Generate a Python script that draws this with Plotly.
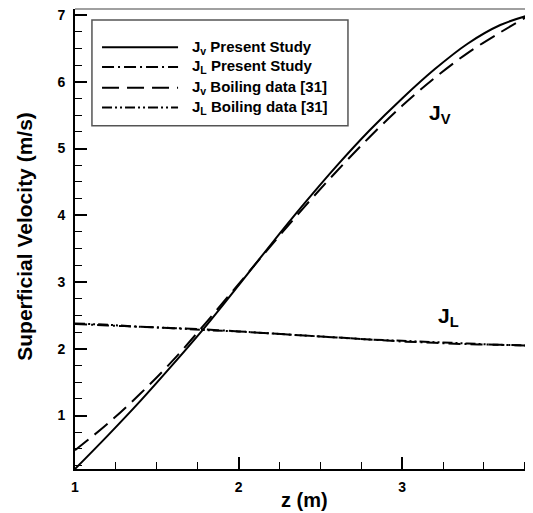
import plotly.graph_objects as go

# ---- data ----
z = [1.0, 1.2, 1.4, 1.6, 1.8, 2.0, 2.2, 2.4, 2.6, 2.8, 3.0, 3.2, 3.4, 3.6, 3.78]
jv_present = [0.20, 0.70, 1.22, 1.77, 2.34, 2.95, 3.57, 4.17, 4.74, 5.27, 5.75, 6.19, 6.57, 6.85, 7.00]
jl_present = [2.37, 2.35, 2.33, 2.31, 2.29, 2.26, 2.23, 2.20, 2.17, 2.14, 2.11, 2.09, 2.07, 2.06, 2.05]
jv_boiling = [0.48, 0.88, 1.33, 1.83, 2.39, 2.97, 3.55, 4.12, 4.66, 5.17, 5.64, 6.06, 6.43, 6.74, 7.00]
jl_boiling = [2.38, 2.36, 2.33, 2.31, 2.28, 2.26, 2.23, 2.20, 2.17, 2.14, 2.12, 2.10, 2.08, 2.06, 2.05]

series_names = ["J<sub>v</sub> Present Study", "J<sub>L</sub> Present Study",
                "J<sub>v</sub> Boiling data [31]", "J<sub>L</sub> Boiling data [31]"]
series_values = [jv_present, jl_present, jv_boiling, jl_boiling]
series_dash = ["solid", "12px,4px,2px,4px", "17px,8px", "10px,3px,2px,3px,2px,3px"]

x_ticks = [1, 2, 3]
y_ticks = [1, 2, 3, 4, 5, 6, 7]

FONT = "Arial, Liberation Sans, sans-serif"

fig = go.Figure()
for name, vals, dash in zip(series_names, series_values, series_dash):
    fig.add_trace(go.Scatter(x=z, y=vals, mode="lines", name=name, showlegend=False,
                             line=dict(color="black", width=2, dash=dash, shape="spline")))

# manual legend (long line samples like the original)
L_X0, L_X1 = 0.037, 0.596
L_Y0, L_Y1 = 0.746, 0.976
shapes = [
    dict(type="rect", xref="paper", yref="paper", x0=L_X0, x1=L_X1, y0=L_Y0, y1=L_Y1,
         line=dict(color="#555555", width=1.5), fillcolor="white", layer="above"),
    dict(type="line", xref="paper", yref="paper", x0=0, x1=1, y0=1, y1=1,
         line=dict(color="#808080", width=1.5)),
]
annotations = []
row_y = [0.917, 0.874, 0.829, 0.786]
for i, (name, dash) in enumerate(zip(series_names, series_dash)):
    shapes.append(dict(type="line", xref="paper", yref="paper", x0=0.059, x1=0.225,
                       y0=row_y[i], y1=row_y[i], layer="above",
                       line=dict(color="black", width=2, dash=dash)))
    annotations.append(dict(xref="paper", yref="paper", x=0.250, y=row_y[i],
                            xanchor="left", yanchor="middle", showarrow=False,
                            text="<b>" + name + "</b>",
                            font=dict(family=FONT, size=15, color="black")))

annotations.append(dict(x=3.15, y=5.52, xref="x", yref="y", xanchor="left", yanchor="middle",
                        showarrow=False, text="<b>J<sub>V</sub></b>",
                        font=dict(family=FONT, size=21, color="black")))
annotations.append(dict(x=3.21, y=2.48, xref="x", yref="y", xanchor="left", yanchor="middle",
                        showarrow=False, text="<b>J<sub>L</sub></b>",
                        font=dict(family=FONT, size=21, color="black")))

# axis titles
annotations.append(dict(xref="paper", yref="paper", x=0.5, y=-0.068,
                        xanchor="center", yanchor="middle", showarrow=False,
                        text="<b>z (m)</b>", font=dict(family=FONT, size=20, color="black")))
annotations.append(dict(xref="paper", yref="paper", x=-0.109, y=0.505, textangle=-90,
                        xanchor="center", yanchor="middle", showarrow=False,
                        text="<b>Superficial Velocity (m/s)</b>",
                        font=dict(family=FONT, size=21, color="black")))

axis_common = dict(
    showgrid=False, zeroline=False, showline=True, linecolor="black", linewidth=2,
    ticks="inside", ticklen=12, tickwidth=2, tickcolor="black",
    ticklabeloverflow="allow",
    tickfont=dict(family=FONT, size=14, color="black", weight="bold"),
)

# the page body adds an 8px offset, so the figure is 8px smaller than the window
fig.update_layout(
    width=525, height=505,
    margin=dict(l=67, r=0, t=1, b=44, autoexpand=False),
    plot_bgcolor="white", paper_bgcolor="white",
    shapes=shapes, annotations=annotations,
    xaxis=dict(range=[1, 3.8], tickvals=x_ticks, ticktext=[str(t) for t in x_ticks],
               ticklabelstandoff=4,
               minor=dict(tick0=1, dtick=0.25, ticks="inside", ticklen=7, tickwidth=1,
                          tickcolor="black", showgrid=False),
               **axis_common),
    yaxis=dict(range=[0.2, 7.09], tickvals=y_ticks, ticktext=[str(t) for t in y_ticks],
               ticklabelstandoff=5,
               minor=dict(tick0=0, dtick=0.25, ticks="inside", ticklen=7, tickwidth=1,
                          tickcolor="black", showgrid=False),
               **axis_common),
)

fig.write_html("out.html")
